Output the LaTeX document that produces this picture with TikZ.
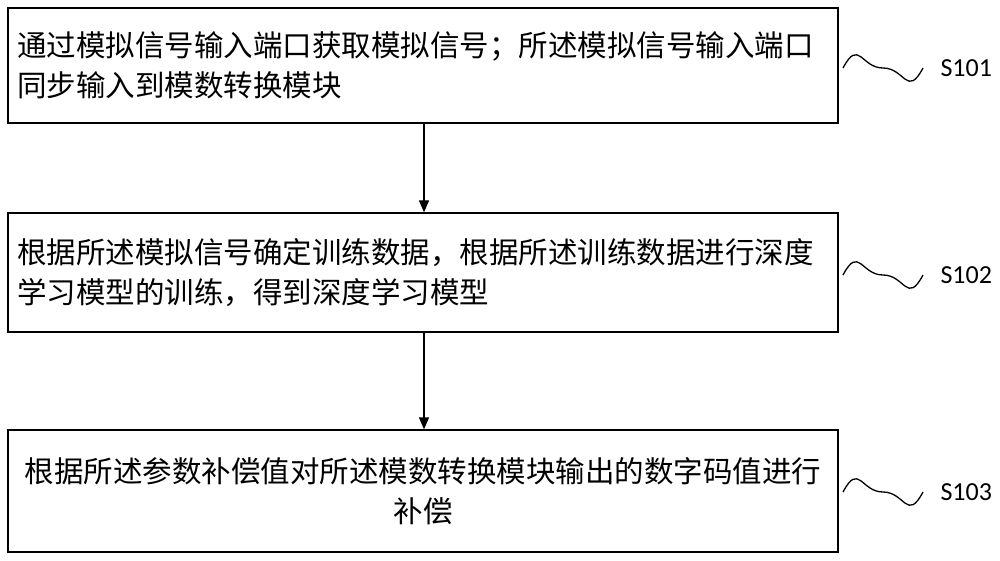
\documentclass[tikz,border=0pt]{standalone}
\usepackage{fontspec}
\newfontfamily\cjk{Noto Sans CJK SC}
\newfontfamily\lab{Carlito}
\usetikzlibrary{arrows.meta}
\begin{document}
\begin{tikzpicture}[x=1pt,y=-1pt,
  boxst/.style={draw,line width=1.3pt,minimum width=830pt,text width=812pt,inner sep=0pt,font=\cjk\fontsize{29.5}{40}\selectfont},
  arr/.style={-{Triangle[length=12pt,width=10pt]},line width=1.3pt},
  wave/.style={line width=1.3pt},
  labst/.style={font=\lab\fontsize{26}{30}\selectfont,anchor=west}]
\useasboundingbox (0,0) rectangle (1000,561);
\node[boxst,minimum height=115pt,align=left] (b1) at (423,65.5) {通过模拟信号输入端口获取模拟信号；所述模拟信号输入端口\\同步输入到模数转换模块};
\node[boxst,minimum height=119pt,align=left] (b2) at (423,272.5) {根据所述模拟信号确定训练数据，根据所述训练数据进行深度\\学习模型的训练，得到深度学习模型};
\node[boxst,minimum height=122pt,align=center] (b3) at (423,491) {根据所述参数补偿值对所述模数转换模块输出的数字码值进行\\补偿};
\draw[arr] (b1.south -| 424,0) -- (b2.north -| 424,0);
\draw[arr] (b2.south -| 424,0) -- (b3.north -| 424,0);
\foreach \y/\t [count=\i] in {68/S101,275/S102,492/S103}{
  \coordinate (w\i) at (843,\y);
  \draw[wave] (w\i) .. controls +(16,-30) and +(-22,0) .. +(40,0) .. controls +(22,0) and +(-16,30) .. +(80,0) coordinate (e\i);
  \node[labst] (l\i) at ([xshift=14pt]e\i) {\t};
}
\end{tikzpicture}
\end{document}
